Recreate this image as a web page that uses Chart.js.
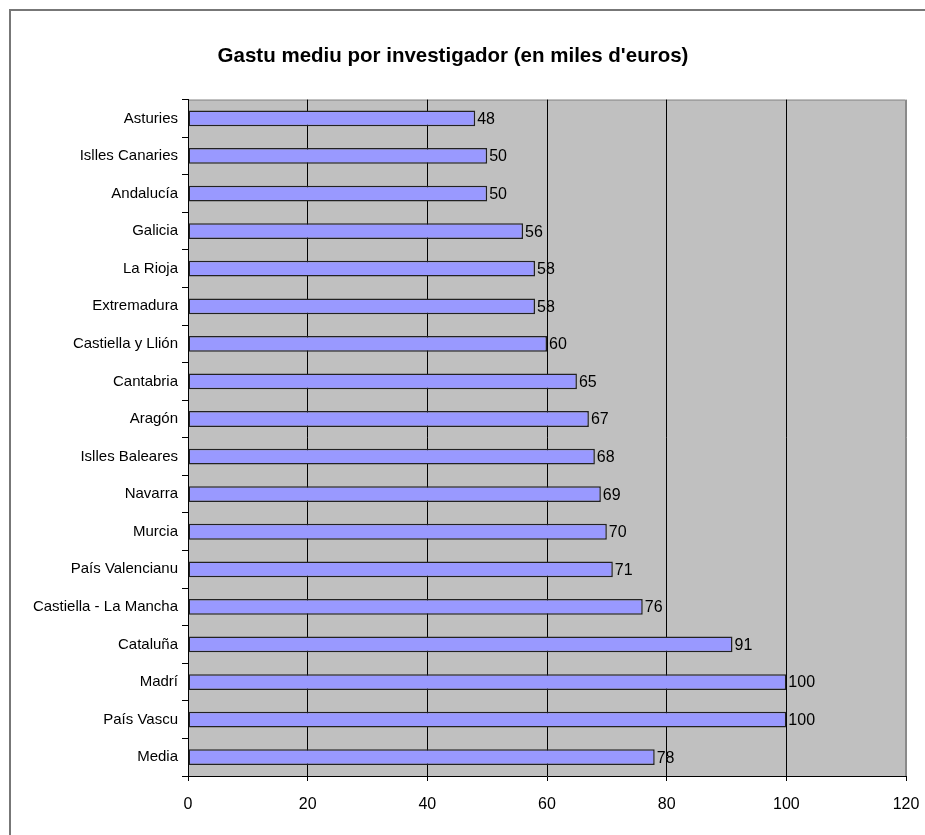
<!DOCTYPE html>
<html>
<head>
<meta charset="utf-8">
<script src="https://cdn.jsdelivr.net/npm/chart.js@4/dist/chart.umd.min.js"></script>
<style>
  html, body { margin: 0; padding: 0; background: #fff; }
  #wrap { width: 925px; height: 835px; position: relative; }
</style>
</head>
<body>
<div id="wrap"><canvas id="chart"></canvas></div>
<script>
// Data
const regions = [
  'Asturies', 'Islles Canaries', 'Andalucía', 'Galicia', 'La Rioja', 'Extremadura',
  'Castiella y Llión', 'Cantabria', 'Aragón', 'Islles Baleares', 'Navarra', 'Murcia',
  'País Valencianu', 'Castiella - La Mancha', 'Cataluña', 'Madrí', 'País Vascu', 'Media'
];
const spending = [48, 50, 50, 56, 58, 58, 60, 65, 67, 68, 69, 70, 71, 76, 91, 100, 100, 78];
const xTicks = [0, 20, 40, 60, 80, 100, 120];

const FONT = 'Liberation Sans, Arial, sans-serif';

// Outer frame + grey plot background
const backdrop = {
  id: 'backdrop',
  beforeDraw(chart) {
    const { ctx, chartArea: a } = chart;
    ctx.save();
    ctx.fillStyle = '#fff';
    ctx.fillRect(0, 0, chart.width, chart.height);
    ctx.strokeStyle = '#777';
    ctx.lineWidth = 2;
    ctx.strokeRect(10, 10, 1200, 1200);
    ctx.fillStyle = '#c0c0c0';
    ctx.fillRect(a.left, a.top, a.right - a.left, a.bottom - a.top);
    ctx.strokeStyle = '#8a8a8a';
    ctx.lineWidth = 1;
    ctx.beginPath();
    ctx.moveTo(a.left, a.top + 0.5);
    ctx.lineTo(a.right - 0.5, a.top + 0.5);
    ctx.lineTo(a.right - 0.5, a.bottom);
    ctx.stroke();
    ctx.restore();
  }
};

// Value next to each bar
const valueLabels = {
  id: 'valueLabels',
  afterDatasetsDraw(chart) {
    const { ctx } = chart;
    const meta = chart.getDatasetMeta(0);
    ctx.save();
    ctx.fillStyle = '#000';
    ctx.font = '16px ' + FONT;
    ctx.textAlign = 'left';
    ctx.textBaseline = 'middle';
    meta.data.forEach((bar, i) => {
      ctx.fillText(String(spending[i]), bar.x + 2, bar.y + 1);
    });
    ctx.restore();
  }
};

new Chart(document.getElementById('chart'), {
  type: 'bar',
  data: {
    labels: regions,
    datasets: [{
      data: spending,
      backgroundColor: '#9999ff',
      borderColor: '#222',
      borderWidth: 1.5,
      borderSkipped: false,
      barPercentage: 0.42,
      categoryPercentage: 1
    }]
  },
  options: {
    indexAxis: 'y',
    responsive: true,
    maintainAspectRatio: false,
    animation: false,
    layout: { padding: { left: 0, right: 19, top: 0, bottom: 0 } },
    plugins: {
      legend: { display: false },
      tooltip: { enabled: false },
      title: {
        display: true,
        text: "Gastu mediu por investigador (en miles d'euros)",
        color: '#000',
        font: { family: FONT, size: 20.5, weight: 'bold' },
        padding: { top: 44, bottom: 31 }
      }
    },
    scales: {
      x: {
        min: 0,
        max: 120,
        afterBuildTicks(scale) {
          scale.ticks = xTicks.map(v => ({ value: v }));
        },
        afterFit(scale) {
          scale.height = 59;
          scale.paddingLeft = 0;
          scale.paddingRight = 0;
        },
        border: { display: true, color: '#000', width: 1 },
        grid: {
          color: ctx => {
            const v = ctx.tick && ctx.tick.value;
            if (v === 0) return 'rgba(0,0,0,0)';
            if (v === 120) return '#8a8a8a';
            return '#000';
          },
          tickColor: '#000',
          tickLength: 5,
          lineWidth: 1
        },
        ticks: {
          color: '#000',
          padding: 14,
          font: { family: FONT, size: 16 }
        }
      },
      y: {
        afterFit(scale) { scale.width = 188; },
        border: { display: true, color: '#000', width: 1 },
        grid: {
          drawOnChartArea: false,
          offset: true,
          tickColor: '#000',
          tickLength: 6
        },
        ticks: {
          color: '#000',
          padding: 4,
          autoSkip: false,
          font: { family: FONT, size: 15 }
        }
      }
    }
  },
  plugins: [backdrop, valueLabels]
});
</script>
</body>
</html>
